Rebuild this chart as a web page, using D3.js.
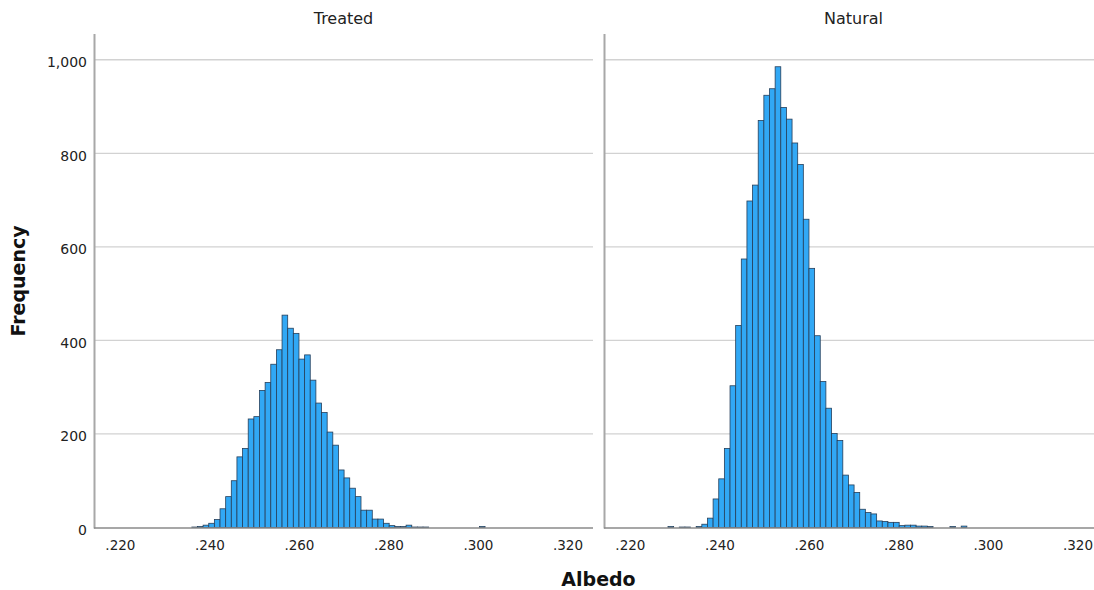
<!DOCTYPE html>
<html lang="en">

<head>
    <meta charset="UTF-8" />
    <style>
        body { margin: 0; background: #fff; }
        svg { display: block; font-family: "DejaVu Sans", sans-serif; }
    </style>
</head>

<body>
    <svg width="1094" height="590"></svg>
    <script src="https://cdnjs.cloudflare.com/ajax/libs/d3/7.8.5/d3.min.js"></script>
    <script>
        // histogram bins (albedo), same bin grid for both panels
        var binStart = 0.2284,
            binWidth = 0.00126;

        var panels = ["Treated", "Natural"];

        var treated = [0, 0, 0, 0, 0, 0,
            1, 2, 5, 9, 17, 40, 66, 100, 151, 169,
            232, 237, 293, 310, 349, 380, 454, 426, 415, 360,
            369, 315, 266, 246, 204, 176, 123, 106, 84, 66,
            37, 37, 18, 18, 9, 4, 2, 2, 5, 1,
            1, 1, 0, 0, 0, 0, 0, 0, 0, 0, 0, 2];

        var natural = [2, 0, 1, 1, 0, 2,
            7, 20, 61, 104, 169, 303, 432, 574, 698, 732,
            870, 924, 938, 985, 898, 873, 822, 776, 659, 554,
            410, 312, 255, 201, 186, 112, 91, 75, 39, 32,
            29, 14, 13, 11, 11, 4, 5, 5, 3, 3,
            2, 0, 0, 0, 2, 0, 3];

        var xTicks = [0.22, 0.24, 0.26, 0.28, 0.30, 0.32];
        var yTicks = [0, 200, 400, 600, 800, 1000];

        var svg = d3.select("svg");

        var panelW = 499,
            panelX = [94, 604],
            plotTop = 34,
            plotBottom = 527.5;

        var x = d3.scaleLinear().domain([0.2141, 0.3256]).range([0, panelW]);
        var y = d3.scaleLinear().domain([0, 1055]).range([plotBottom, plotTop]);

        var fmtX = function (d) { return d3.format(".3f")(d).replace(/^0/, ""); };

        [treated, natural].forEach(function (counts, p) {
            var g = svg.append("g").attr("transform", "translate(" + panelX[p] + ",0)");

            // gridlines
            g.selectAll(".grid")
                .data(yTicks.filter(function (d) { return d > 0; }))
                .enter().append("line")
                .attr("x1", 0).attr("x2", panelW)
                .attr("y1", function (d) { return y(d); })
                .attr("y2", function (d) { return y(d); })
                .style("stroke", "#d2d2d2")
                .style("stroke-width", 1.3);

            var bins = counts.map(function (c, i) {
                return { x0: binStart + i * binWidth, x1: binStart + (i + 1) * binWidth, n: c };
            }).filter(function (b) { return b.n > 0; });

            g.selectAll(".bar")
                .data(bins)
                .enter().append("rect")
                .attr("x", function (d) { return x(d.x0); })
                .attr("width", function (d) { return x(d.x1) - x(d.x0); })
                .attr("y", function (d) { return y(d.n); })
                .attr("height", function (d) { return y(0) - y(d.n); })
                .style("fill", "#31a8f5")
                .style("stroke", "#263f5a")
                .style("stroke-width", 0.8);

            // axis lines
            g.append("line")
                .attr("x1", 0.5).attr("x2", 0.5)
                .attr("y1", plotTop).attr("y2", plotBottom + 1)
                .style("stroke", "#a8a8a8")
                .style("stroke-width", 2);
            g.append("line")
                .attr("x1", 0).attr("x2", panelW)
                .attr("y1", plotBottom + 0.5).attr("y2", plotBottom + 0.5)
                .style("stroke", "#8a8a8a")
                .style("stroke-width", 1.3);

            // x tick labels
            g.selectAll(".xt")
                .data(xTicks)
                .enter().append("text")
                .attr("x", function (d) { return x(d); })
                .attr("y", 550)
                .attr("text-anchor", "middle")
                .style("font-size", "13.5px")
                .style("fill", "#222")
                .text(fmtX);

            // panel title
            g.append("text")
                .attr("x", panelW / 2)
                .attr("y", 24)
                .attr("text-anchor", "middle")
                .style("font-size", "16px")
                .style("fill", "#222")
                .text(panels[p]);

            if (p === 0) {
                g.selectAll(".yt")
                    .data(yTicks)
                    .enter().append("text")
                    .attr("x", -7)
                    .attr("y", function (d) { return y(d); })
                    .attr("dy", "0.53em")
                    .attr("text-anchor", "end")
                    .style("font-size", "14px")
                    .style("fill", "#222")
                    .text(d3.format(","));
            }
        });

        // axis titles
        svg.append("text")
            .attr("transform", "translate(25,281) rotate(-90)")
            .attr("text-anchor", "middle")
            .style("font-size", "19px")
            .style("font-weight", "bold")
            .style("fill", "#111")
            .text("Frequency");

        svg.append("text")
            .attr("x", 598.5)
            .attr("y", 586)
            .attr("text-anchor", "middle")
            .style("font-size", "19px")
            .style("font-weight", "bold")
            .style("fill", "#111")
            .text("Albedo");
    </script>
</body>

</html>
